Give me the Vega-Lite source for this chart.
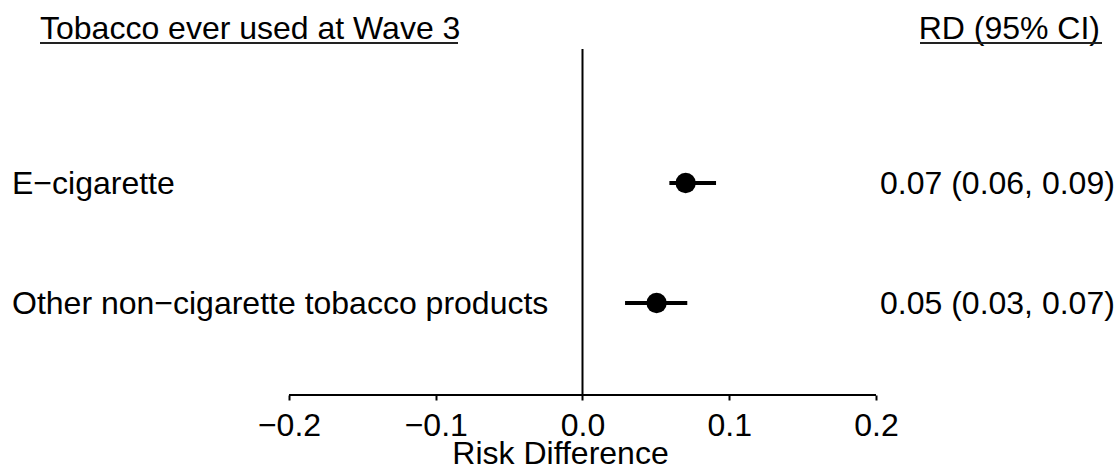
{
  "$schema": "https://vega.github.io/schema/vega-lite/v6.json",
  "width": 1120,
  "height": 395,
  "padding": 0,
  "autosize": {"type": "pad"},
  "background": "white",
  "config": {
    "view": {"stroke": null},
    "font": "Liberation Sans",
    "text": {"font": "Liberation Sans", "fontSize": 32, "color": "black"}
  },
  "datasets": {
    "rows": [
      {"product": "E−cigarette", "rd": 0.0703, "lo": 0.0592, "hi": 0.091, "row": 1, "ci": "0.07 (0.06, 0.09)"},
      {"product": "Other non−cigarette tobacco products", "rd": 0.0505, "lo": 0.029, "hi": 0.0714, "row": 2, "ci": "0.05 (0.03, 0.07)"}
    ],
    "headers": [
      {"label": "Tobacco ever used at Wave 3", "side": "left"},
      {"label": "RD (95% CI)", "side": "right"}
    ]
  },
  "layer": [
    {
      "data": {"values": [{}]},
      "mark": {"type": "rule", "color": "black", "strokeWidth": 2},
      "encoding": {
        "x": {
          "datum": 0,
          "type": "quantitative",
          "scale": {"domain": [-0.39693, 0.36627], "nice": false, "zero": false},
          "axis": {
            "values": [-0.2, -0.1, 0, 0.1, 0.2],
            "format": ".1f",
            "domain": false,
            "grid": false,
            "ticks": true,
            "tickSize": 5,
            "tickWidth": 2,
            "tickColor": "black",
            "labelFontSize": 32,
            "labelFont": "Liberation Sans",
            "labelColor": "black",
            "labelPadding": 10,
            "labelFlush": false,
            "labelOverlap": false,
            "title": "Risk Difference",
            "titleFontSize": 32,
            "titleFont": "Liberation Sans",
            "titleFontWeight": "normal",
            "titleColor": "black",
            "titlePadding": -3
          }
        },
        "y": {
          "datum": -0.1167,
          "type": "quantitative",
          "scale": {"domain": [-0.525, 2.7667], "reverse": true, "nice": false, "zero": false},
          "axis": null
        },
        "y2": {"datum": 2.7667}
      }
    },
    {
      "data": {"values": [{}]},
      "mark": {"type": "rule", "color": "black", "strokeWidth": 2},
      "encoding": {
        "x": {"datum": -0.2, "type": "quantitative"},
        "x2": {"datum": 0.2},
        "y": {"datum": 2.7667, "type": "quantitative"}
      }
    },
    {
      "data": {"name": "rows"},
      "mark": {"type": "rule", "color": "black", "strokeWidth": 4},
      "encoding": {
        "x": {"field": "lo", "type": "quantitative"},
        "x2": {"field": "hi"},
        "y": {"field": "row", "type": "quantitative"}
      }
    },
    {
      "data": {"name": "rows"},
      "mark": {"type": "point", "shape": "circle", "filled": true, "color": "black", "size": 415, "opacity": 1},
      "encoding": {
        "x": {"field": "rd", "type": "quantitative"},
        "y": {"field": "row", "type": "quantitative"}
      }
    },
    {
      "data": {"name": "rows"},
      "mark": {"type": "text", "align": "left", "baseline": "alphabetic", "dy": 11, "fontSize": 32},
      "encoding": {
        "x": {"datum": -0.38875, "type": "quantitative"},
        "y": {"field": "row", "type": "quantitative"},
        "text": {"field": "product"}
      }
    },
    {
      "data": {"name": "rows"},
      "mark": {"type": "text", "align": "left", "baseline": "alphabetic", "dy": 11, "fontSize": 32},
      "encoding": {
        "x": {"datum": 0.20273, "type": "quantitative"},
        "y": {"field": "row", "type": "quantitative"},
        "text": {"field": "ci"}
      }
    },
    {
      "data": {"name": "headers"},
      "transform": [{"filter": "datum.side === 'left'"}],
      "mark": {"type": "text", "align": "left", "baseline": "alphabetic", "fontSize": 32},
      "encoding": {
        "x": {"datum": -0.36967, "type": "quantitative"},
        "y": {"datum": -0.2, "type": "quantitative"},
        "text": {"field": "label"}
      }
    },
    {
      "data": {"name": "headers"},
      "transform": [{"filter": "datum.side === 'right'"}],
      "mark": {"type": "text", "align": "right", "baseline": "alphabetic", "fontSize": 32},
      "encoding": {
        "x": {"datum": 0.35264, "type": "quantitative"},
        "y": {"datum": -0.2, "type": "quantitative"},
        "text": {"field": "label"}
      }
    },
    {
      "data": {"values": [{}]},
      "mark": {"type": "rule", "color": "#222222", "strokeWidth": 1.8},
      "encoding": {
        "x": {"datum": -0.36967, "type": "quantitative"},
        "x2": {"datum": -0.08483},
        "y": {"datum": -0.1667, "type": "quantitative"}
      }
    },
    {
      "data": {"values": [{}]},
      "mark": {"type": "rule", "color": "#222222", "strokeWidth": 1.8},
      "encoding": {
        "x": {"datum": 0.22999, "type": "quantitative"},
        "x2": {"datum": 0.35401},
        "y": {"datum": -0.1667, "type": "quantitative"}
      }
    }
  ]
}
